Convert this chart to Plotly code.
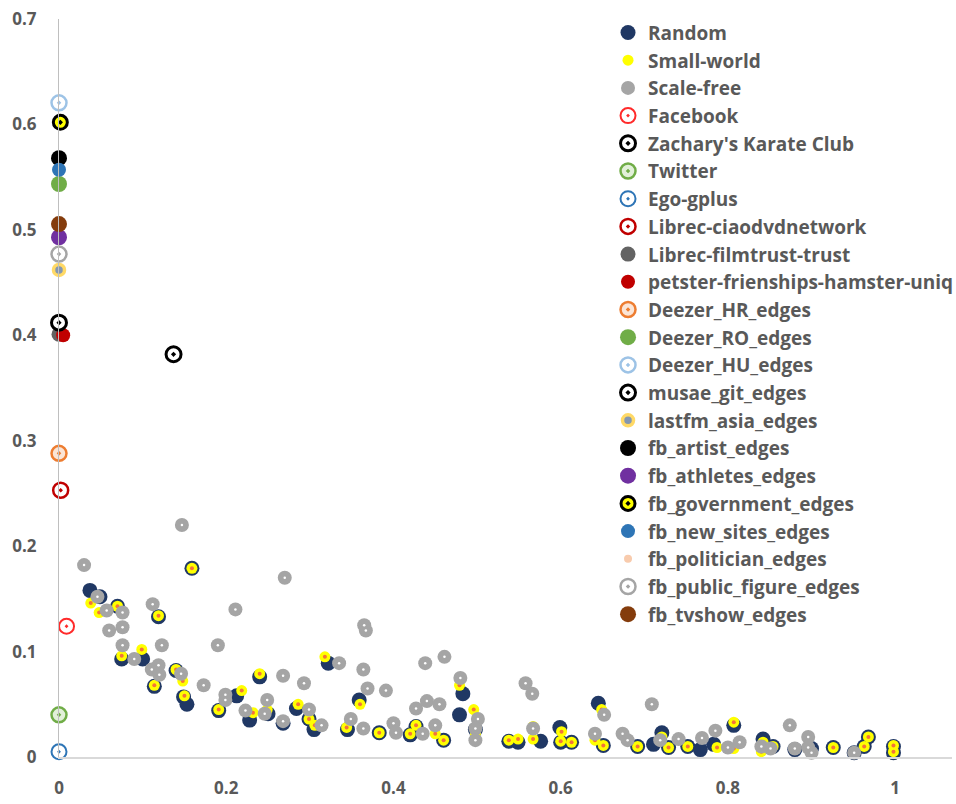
import plotly.graph_objects as go

# ---- generated network models -------------------------------------------
random_x = [0.037, 0.049, 0.070, 0.075, 0.100, 0.114, 0.119, 0.140, 0.149, 0.153,
            0.159, 0.191, 0.2125, 0.228, 0.240, 0.250, 0.268, 0.284, 0.299, 0.305,
            0.322, 0.345, 0.359, 0.383, 0.420, 0.427, 0.460, 0.479, 0.483, 0.498,
            0.538, 0.549, 0.576, 0.599, 0.600, 0.613, 0.645, 0.651, 0.692, 0.711,
            0.721, 0.729, 0.752, 0.767, 0.783, 0.807, 0.842, 0.854, 0.880, 0.900,
            0.926, 0.951, 0.963, 0.968, 0.998, 0.998]
random_y = [0.158, 0.152, 0.143, 0.093, 0.093, 0.067, 0.133, 0.082, 0.057, 0.050,
            0.179, 0.044, 0.058, 0.035, 0.076, 0.041, 0.032, 0.046, 0.036, 0.026,
            0.089, 0.026, 0.054, 0.023, 0.021, 0.029, 0.016, 0.040, 0.060, 0.026,
            0.015, 0.014, 0.015, 0.028, 0.014, 0.014, 0.051, 0.011, 0.010, 0.012,
            0.023, 0.009, 0.010, 0.007, 0.012, 0.030, 0.017, 0.010, 0.007, 0.008,
            0.009, 0.004, 0.010, 0.019, 0.010, 0.004]

smallworld_x = [0.038, 0.048, 0.070, 0.075, 0.099, 0.114, 0.119, 0.140, 0.148, 0.150,
                0.159, 0.191, 0.2185, 0.232, 0.240, 0.249, 0.286, 0.299, 0.306, 0.318,
                0.344, 0.360, 0.383, 0.420, 0.427, 0.450, 0.460, 0.479, 0.496, 0.498,
                0.538, 0.549, 0.567, 0.567, 0.601, 0.600, 0.613, 0.649, 0.641, 0.651,
                0.692, 0.721, 0.729, 0.752, 0.787, 0.807, 0.807, 0.842, 0.840, 0.854,
                0.880, 0.926, 0.963, 0.968, 0.998, 0.998]
smallworld_y = [0.146, 0.137, 0.143, 0.096, 0.102, 0.068, 0.134, 0.083, 0.072, 0.058,
                0.179, 0.045, 0.063, 0.042, 0.079, 0.045, 0.050, 0.036, 0.030, 0.095,
                0.028, 0.050, 0.023, 0.022, 0.030, 0.022, 0.016, 0.068, 0.045, 0.022,
                0.016, 0.017, 0.029, 0.017, 0.024, 0.015, 0.014, 0.045, 0.016, 0.011,
                0.010, 0.019, 0.009, 0.010, 0.009, 0.033, 0.008, 0.014, 0.005, 0.010,
                0.007, 0.009, 0.010, 0.019, 0.011, 0.005]

scalefree_x = [0.030, 0.046, 0.057, 0.060, 0.076, 0.076, 0.076, 0.090, 0.111, 0.112,
               0.119, 0.120, 0.123, 0.146, 0.147, 0.173, 0.190, 0.199, 0.199, 0.211,
               0.223, 0.246, 0.249, 0.268, 0.268, 0.270, 0.293, 0.299, 0.314, 0.335,
               0.349, 0.364, 0.364, 0.365, 0.367, 0.369, 0.391, 0.400, 0.403, 0.427,
               0.435, 0.438, 0.440, 0.450, 0.455, 0.461, 0.480, 0.501, 0.498, 0.498,
               0.558, 0.566, 0.567, 0.641, 0.652, 0.674, 0.680, 0.709, 0.719, 0.741,
               0.769, 0.785, 0.800, 0.814, 0.840, 0.851, 0.874, 0.880, 0.896, 0.896,
               0.900, 0.951]
scalefree_y = [0.182, 0.152, 0.139, 0.120, 0.137, 0.123, 0.106, 0.093, 0.083, 0.145,
               0.087, 0.078, 0.106, 0.079, 0.220, 0.068, 0.106, 0.059, 0.054, 0.140,
               0.044, 0.041, 0.054, 0.034, 0.077, 0.170, 0.070, 0.045, 0.030, 0.089,
               0.036, 0.083, 0.027, 0.125, 0.120, 0.065, 0.063, 0.032, 0.023, 0.046,
               0.022, 0.089, 0.053, 0.030, 0.050, 0.095, 0.075, 0.036, 0.027, 0.016,
               0.070, 0.060, 0.027, 0.022, 0.040, 0.022, 0.016, 0.050, 0.016, 0.017,
               0.018, 0.025, 0.009, 0.014, 0.010, 0.008, 0.030, 0.008, 0.019, 0.009,
               0.004, 0.004]

# ---- real-world networks (one point each) --------------------------------
real_names = ["Facebook", "Zachary's Karate Club", "Twitter", "Ego-gplus",
              "Librec-ciaodvdnetwork", "Librec-filmtrust-trust",
              "petster-frienships-hamster-uniq", "Deezer_HR_edges", "Deezer_RO_edges",
              "Deezer_HU_edges", "musae_git_edges", "lastfm_asia_edges",
              "fb_artist_edges", "fb_athletes_edges", "fb_government_edges",
              "fb_new_sites_edges", "fb_politician_edges", "fb_public_figure_edges",
              "fb_tvshow_edges"]
real_x = [0.009, 0.137, 0.0, 0.0, 0.002, 0.0, 0.005, 0.0, 0.0, 0.0, 0.0, 0.0,
          0.0, 0.0, 0.0016, 0.0, 0.0, 0.0, 0.0]
real_y = [0.124, 0.382, 0.040, 0.005, 0.253, 0.401, 0.400, 0.288, 0.5435,
          0.6205, 0.412, 0.462, 0.568, 0.493, 0.602, 0.557, 0.477, 0.477, 0.5055]

# marker appearance per real-world network: (symbol, fill, line colour, line width, size)
real_style = {
    "Facebook": ("circle-dot", "#FFFFFF", "#FF2A2A", 2, 15),
    "Zachary's Karate Club": ("circle-dot", "#FFFFFF", "#000000", 3, 15),
    "Twitter": ("circle-dot", "#E2F0D9", "#70AD47", 2.5, 15),
    "Ego-gplus": ("circle-dot", "#FFFFFF", "#2E75B6", 2, 15),
    "Librec-ciaodvdnetwork": ("circle-dot", "#FFFFFF", "#C00000", 2.5, 15),
    "Librec-filmtrust-trust": ("circle", "#636363", "#636363", 0, 15),
    "petster-frienships-hamster-uniq": ("circle", "#C00000", "#C00000", 0, 14),
    "Deezer_HR_edges": ("circle-dot", "#FBE5D6", "#ED7D31", 2.5, 15),
    "Deezer_RO_edges": ("circle", "#70AD47", "#70AD47", 0, 16),
    "Deezer_HU_edges": ("circle-dot", "#FFFFFF", "#9DC3E6", 2.5, 15),
    "musae_git_edges": ("circle-dot", "#FFFFFF", "#000000", 3, 15),
    "lastfm_asia_edges": ("circle", "#8497B0", "#FFD966", 3.5, 11),
    "fb_artist_edges": ("circle", "#000000", "#000000", 0, 16),
    "fb_athletes_edges": ("circle", "#7030A0", "#7030A0", 0, 16),
    "fb_government_edges": ("circle-dot", "#FFFF00", "#000000", 3, 14),
    "fb_new_sites_edges": ("circle", "#2E75B6", "#2E75B6", 0, 14),
    "fb_politician_edges": ("circle", "#F8CBAD", "#F8CBAD", 0, 8),
    "fb_public_figure_edges": ("circle-dot", "#FFFFFF", "#A5A5A5", 2.5, 15),
    "fb_tvshow_edges": ("circle", "#843C0C", "#843C0C", 0, 16),
}

fig = go.Figure()

fig.add_trace(go.Scatter(
    x=random_x, y=random_y, mode="markers", name="Random", legendgroup="random",
    marker=dict(symbol="circle", size=15, color="#203864"), cliponaxis=False))

fig.add_trace(go.Scatter(
    x=smallworld_x, y=smallworld_y, mode="markers", name="Small-world",
    legendgroup="smallworld",
    marker=dict(symbol="circle", size=11, color="#FFFF00"), cliponaxis=False))
fig.add_trace(go.Scatter(
    x=smallworld_x, y=smallworld_y, mode="markers", showlegend=False,
    legendgroup="smallworld", hoverinfo="skip",
    marker=dict(symbol="circle", size=4, color="#F4733A"), cliponaxis=False))

fig.add_trace(go.Scatter(
    x=scalefree_x, y=scalefree_y, mode="markers", name="Scale-free",
    legendgroup="scalefree",
    marker=dict(symbol="circle", size=14, color="#A5A5A5"), cliponaxis=False))
fig.add_trace(go.Scatter(
    x=scalefree_x, y=scalefree_y, mode="markers", showlegend=False,
    legendgroup="scalefree", hoverinfo="skip",
    marker=dict(symbol="circle", size=2.5, color="#FFFFFF"), cliponaxis=False))

for name, xv, yv in zip(real_names, real_x, real_y):
    sym, fill, lc, lw, sz = real_style[name]
    fig.add_trace(go.Scatter(
        x=[xv], y=[yv], mode="markers", name=name, legendgroup=name,
        marker=dict(symbol=sym, size=sz, color=fill, line=dict(color=lc, width=lw)),
        cliponaxis=False))

tick_font = dict(family="Open Sans", size=17, color="#595959", weight="bold")

fig.update_layout(
    width=956, height=804,
    margin=dict(l=59, r=4, t=19, b=47, autoexpand=False),
    paper_bgcolor="white", plot_bgcolor="white",
    showlegend=True,
    legend=dict(
        xref="container", yref="container",
        x=0.636, y=0.983, xanchor="left", yanchor="top",
        font=dict(family="Open Sans", size=19, color="#595959", weight="bold"),
        tracegroupgap=0, bgcolor="rgba(0,0,0,0)", itemsizing="trace",
        maxheight=780,
    ),
    xaxis=dict(
        range=[0, 1.068], tickvals=[0, 0.2, 0.4, 0.6, 0.8, 1],
        ticktext=["0", "0.2", "0.4", "0.6", "0.8", "1"],
        showgrid=False, zeroline=False, showline=True, linecolor="#D9D9D9",
        linewidth=2, ticks="", tickfont=tick_font, ticklabelstandoff=15,
    ),
    yaxis=dict(
        range=[0, 0.7], tickvals=[0, 0.1, 0.2, 0.3, 0.4, 0.5, 0.6, 0.7],
        ticktext=["0", "0.1", "0.2", "0.3", "0.4", "0.5", "0.6", "0.7"],
        showgrid=False, zeroline=False, showline=True, linecolor="#BFBFBF",
        linewidth=1, ticks="", tickfont=tick_font, ticklabelstandoff=18,
    ),
)

fig.write_html("out.html")
